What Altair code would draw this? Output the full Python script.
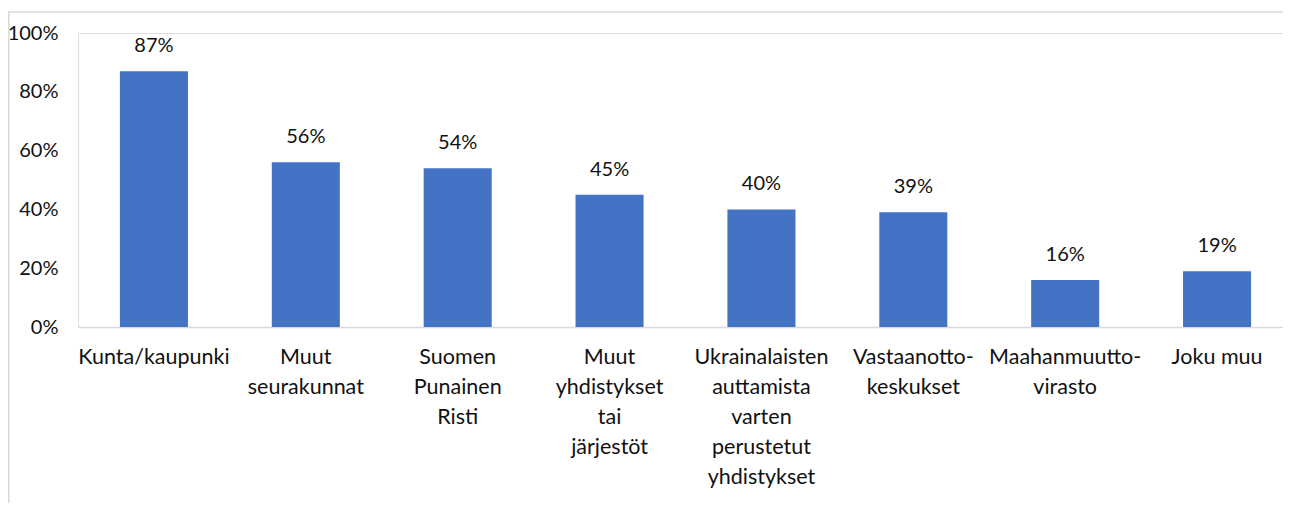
import altair as alt
import pandas as pd

categories = [
    "Kunta/kaupunki",
    "Muut|seurakunnat",
    "Suomen|Punainen|Risti",
    "Muut|yhdistykset|tai|järjestöt",
    "Ukrainalaisten|auttamista|varten|perustetut|yhdistykset",
    "Vastaanotto-|keskukset",
    "Maahanmuutto-|virasto",
    "Joku muu",
]
values = [0.87, 0.56, 0.54, 0.45, 0.40, 0.39, 0.16, 0.19]
y_ticks = [0, 0.2, 0.4, 0.6, 0.8, 1.0]

df = pd.DataFrame({"cat": categories, "val": values})

FONT = "Lato"
BLUE = "#4472C4"
GRID = "#D9D9D9"

x_enc = alt.X(
    "cat:N",
    sort=categories,
    title=None,
    scale=alt.Scale(range=[0, 1215], paddingInner=0.552, paddingOuter=0.276),
    axis=alt.Axis(
        labelExpr="split(datum.label, '|')",
        labelAngle=0,
        labelFont=FONT,
        labelFontSize=21.5,
        labelColor="#111111",
        labelLineHeight=30,
        labelPadding=19,
        labelBaseline="top",
        ticks=False,
        tickSize=0,
        domainColor=GRID,
        domainWidth=1.5,
        labelOverlap=False,
        labelBound=False,
        labelFlush=False,
    ),
)
y_enc = alt.Y(
    "val:Q",
    title=None,
    scale=alt.Scale(domain=[0, 1], nice=False),
    axis=alt.Axis(
        values=y_ticks,
        format=".0%",
        grid=False,
        domain=False,
        ticks=False,
        tickSize=0,
        labelPadding=20,
        labelFont=FONT,
        labelFontSize=20,
        labelColor="#111111",
    ),
)

bars = alt.Chart(df).mark_bar(color=BLUE).encode(x=x_enc, y=y_enc)
labels = alt.Chart(df).mark_text(
    font=FONT, fontSize=20, dy=-19, baseline="alphabetic", color="#111111"
).encode(
    x=alt.X("cat:N", sort=categories),
    y="val:Q",
    text=alt.Text("val:Q", format=".0%"),
)

frame_data = alt.Data(values=[{"a": 1}])
top_line = alt.Chart(frame_data).mark_rule(color=GRID, strokeWidth=1.5).encode(
    x=alt.value(-70), x2=alt.value(1205), y=alt.value(-21)
)
left_line = alt.Chart(frame_data).mark_rule(color=GRID, strokeWidth=1.5).encode(
    x=alt.value(-69.2), y=alt.value(-21), y2=alt.value(470)
)

chart = (
    alt.layer(top_line, left_line, bars, labels)
    .properties(
        width=1205,
        height=294,
        autosize=alt.AutoSizeParams(type="none"),
        padding={"left": 70, "top": 25, "right": 0, "bottom": 176},
    )
    .configure_view(stroke=None)
    .configure(background="white")
)

chart.save("out.html", embed_options={"renderer": "svg", "actions": False})
